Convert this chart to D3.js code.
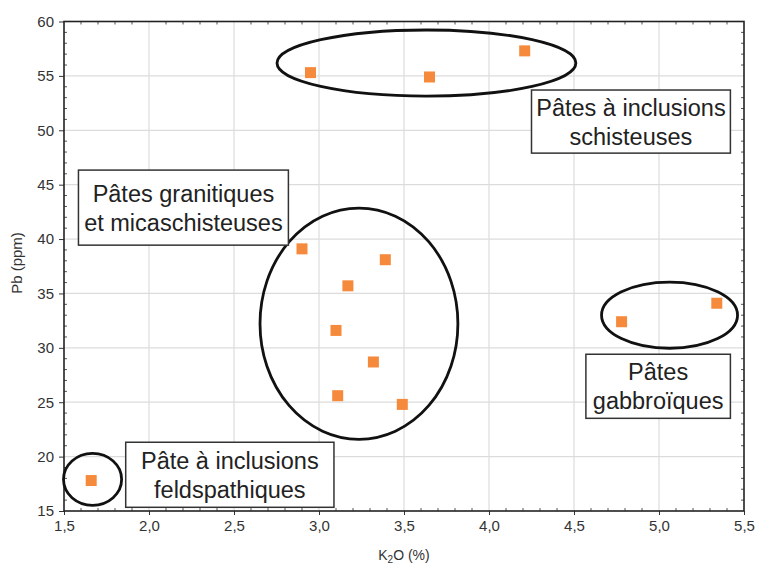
<!DOCTYPE html>
<html><head><meta charset="utf-8">
<script src="https://cdn.jsdelivr.net/npm/d3@7"></script>
<style>body{margin:0;background:#fff}svg{display:block;font-family:"Liberation Sans",Arial,sans-serif}</style>
</head><body>
<script>
const k2o = [2.95, 3.65, 4.21, 2.90, 3.39, 3.17, 3.10, 3.32, 3.11, 3.49, 5.34, 4.78, 1.66];
const pb  = [55.3, 54.9, 57.3, 39.1, 38.1, 35.7, 31.6, 28.7, 25.6, 24.8, 34.1, 32.4, 17.8];
const xTicks = [1.5, 2.0, 2.5, 3.0, 3.5, 4.0, 4.5, 5.0, 5.5];
const yTicks = [15, 20, 25, 30, 35, 40, 45, 50, 55, 60];
const groupLabels = [
  ["Pâtes à inclusions", "schisteuses"],
  ["Pâtes granitiques", "et micaschisteuses"],
  ["Pâtes", "gabbroïques"],
  ["Pâte à inclusions", "feldspathiques"]
];
// ellipse centres and radii in data units (K2O, Pb)
const ellCx = [3.632, 3.235, 5.062, 1.668];
const ellCy = [56.18, 32.22, 33.0, 17.91];
const ellRx = [0.879, 0.582, 0.400, 0.171];
const ellRy = [3.04, 10.63, 3.04, 2.39];
// label box corners in data units
const boxX0 = [4.25, 1.585, 4.57, 1.863];
const boxX1 = [5.42, 2.82, 5.42, 3.088];
const boxY0 = [53.7, 46.34, 29.41, 21.32];
const boxY1 = [47.9, 39.44, 23.52, 15.34];

const W = 758, H = 565;
const m = {l: 64, r: 14, t: 21.5, b: 54};
const svg = d3.select("body").append("svg").attr("width", W).attr("height", H);
const x = d3.scaleLinear().domain([1.5, 5.5]).range([m.l, W - m.r]);
const y = d3.scaleLinear().domain([15, 60]).range([H - m.b, m.t]);
const fmt = d => d3.format(".1f")(d).replace(".", ",");

// grid
svg.append("g").selectAll("line").data(xTicks.slice(1, -1)).join("line")
  .attr("x1", d => x(d)).attr("x2", d => x(d)).attr("y1", y(15)).attr("y2", y(60))
  .attr("stroke", "#dcdcdc").attr("stroke-width", 1.2);
svg.append("g").selectAll("line").data(yTicks.slice(1, -1)).join("line")
  .attr("x1", x(1.5)).attr("x2", x(5.5)).attr("y1", d => y(d)).attr("y2", d => y(d))
  .attr("stroke", "#dcdcdc").attr("stroke-width", 1.2);

// minor ticks (inside)
const xMinor = d3.range(16, 55).map(v => v / 10).filter(v => Math.abs(v * 2 - Math.round(v * 2)) > 1e-6);
const yMinor = d3.range(16, 60).filter(v => v % 5 !== 0);
const tk = svg.append("g").attr("stroke", "#555").attr("stroke-width", 1);
tk.selectAll(".xb").data(xMinor).join("line").attr("x1", d => x(d)).attr("x2", d => x(d)).attr("y1", y(15)).attr("y2", y(15) - 3);
tk.selectAll(".xt").data(xMinor).join("line").attr("x1", d => x(d)).attr("x2", d => x(d)).attr("y1", y(60)).attr("y2", y(60) + 3);
tk.selectAll(".yl").data(yMinor).join("line").attr("y1", d => y(d)).attr("y2", d => y(d)).attr("x1", x(1.5)).attr("x2", x(1.5) + 3);
tk.selectAll(".yr").data(yMinor).join("line").attr("y1", d => y(d)).attr("y2", d => y(d)).attr("x1", x(5.5)).attr("x2", x(5.5) - 3);

// axes
const xAxis = d3.axisBottom(x).tickValues(xTicks).tickFormat(fmt).tickSize(4).tickPadding(5);
const yAxis = d3.axisLeft(y).tickValues(yTicks).tickFormat(d3.format("d")).tickSize(5).tickPadding(5);
const gx = svg.append("g").attr("transform", `translate(0,${y(15)})`).call(xAxis);
const gy = svg.append("g").attr("transform", `translate(${x(1.5)},0)`).call(yAxis);
[gx, gy].forEach(g => {
  g.select(".domain").remove();
  g.selectAll(".tick line").attr("stroke", "#333");
  g.selectAll(".tick text").attr("font-size", 15).attr("fill", "#333")
    .attr("font-family", "'Liberation Sans',Arial,sans-serif");
});
// frame
svg.append("rect").attr("x", x(1.5)).attr("y", y(60)).attr("width", x(5.5) - x(1.5)).attr("height", y(15) - y(60))
  .attr("fill", "none").attr("stroke", "#222").attr("stroke-width", 1.6);

// axis titles
const xt = svg.append("text").attr("x", (x(1.5) + x(5.5)) / 2).attr("y", 560).attr("text-anchor", "middle")
  .attr("font-size", 14).attr("fill", "#333");
xt.append("tspan").text("K");
xt.append("tspan").text("2").attr("font-size", 10).attr("dy", 3);
xt.append("tspan").text("O (%)").attr("dy", -3);
svg.append("text").attr("transform", `translate(22,263) rotate(-90)`)
  .attr("text-anchor", "middle").attr("font-size", 15).attr("fill", "#333").text("Pb (ppm)");

// points
svg.append("g").selectAll("rect").data(k2o.map((v, i) => [v, pb[i]])).join("rect")
  .attr("x", d => x(d[0]) - 5.5).attr("y", d => y(d[1]) - 5.5).attr("width", 11).attr("height", 11)
  .attr("fill", "#f68a3c");

// ellipses
svg.append("g").selectAll("ellipse").data(ellCx.map((c, i) => i)).join("ellipse")
  .attr("cx", i => x(ellCx[i])).attr("cy", i => y(ellCy[i]))
  .attr("rx", i => x(ellCx[i] + ellRx[i]) - x(ellCx[i]))
  .attr("ry", i => y(ellCy[i] - ellRy[i]) - y(ellCy[i]))
  .attr("fill", "none").attr("stroke", "#111").attr("stroke-width", 2.8);

// label boxes
const lb = svg.append("g").selectAll("g").data(groupLabels.map((t, i) => i)).join("g");
lb.append("rect")
  .attr("x", i => x(boxX0[i])).attr("y", i => y(boxY0[i]))
  .attr("width", i => x(boxX1[i]) - x(boxX0[i])).attr("height", i => y(boxY1[i]) - y(boxY0[i]))
  .attr("fill", "#fff").attr("stroke", "#333").attr("stroke-width", 1.5);
lb.each(function(i) {
  const cx = (x(boxX0[i]) + x(boxX1[i])) / 2, cy = (y(boxY0[i]) + y(boxY1[i])) / 2;
  const t = d3.select(this).append("text").attr("text-anchor", "middle").attr("font-size", 23.5).attr("fill", "#222");
  groupLabels[i].forEach((s, j) => t.append("tspan").attr("x", cx).attr("y", cy + (j === 0 ? -6 : 23)).text(s));
});
</script>
</body></html>
